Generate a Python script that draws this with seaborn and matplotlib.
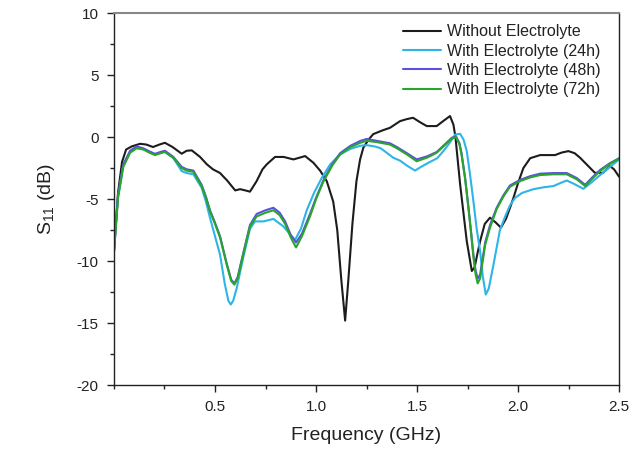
import numpy as np
import pandas as pd
import matplotlib
matplotlib.use("Agg")
import matplotlib.pyplot as plt
from matplotlib.ticker import MultipleLocator
import seaborn as sns

# ---------------- data ----------------
labels = ["Without Electrolyte", "With Electrolyte (24h)",
          "With Electrolyte (48h)", "With Electrolyte (72h)"]

x_none = [0.0, 0.02, 0.04, 0.06, 0.088, 0.129, 0.16, 0.193, 0.225, 0.252, 0.29, 0.335,
          0.36, 0.385, 0.426, 0.46, 0.49, 0.525, 0.56, 0.6, 0.624, 0.65, 0.673, 0.706,
          0.735, 0.756, 0.797, 0.84, 0.888, 0.946, 0.987, 1.02, 1.053, 1.085, 1.105,
          1.125, 1.144, 1.16, 1.18, 1.2, 1.218, 1.234, 1.26, 1.283, 1.33, 1.366, 1.416,
          1.449, 1.48, 1.515, 1.548, 1.597, 1.63, 1.663, 1.68, 1.69, 1.713, 1.746,
          1.771, 1.785, 1.80, 1.812, 1.835, 1.861, 1.89, 1.915, 1.94, 1.96, 1.977,
          2.0, 2.026, 2.06, 2.109, 2.183, 2.215, 2.249, 2.28, 2.307, 2.345, 2.38,
          2.42, 2.455, 2.475, 2.5]
y_none = [-9.2, -4.5, -2.0, -1.0, -0.75, -0.54, -0.6, -0.8, -0.6, -0.46, -0.8, -1.34,
          -1.1, -1.07, -1.6, -2.2, -2.6, -2.9, -3.5, -4.3, -4.2, -4.3, -4.4, -3.55,
          -2.6, -2.2, -1.6, -1.6, -1.8, -1.53, -2.07, -2.7, -3.55, -5.2, -7.5,
          -11.5, -14.8, -11.5, -7.0, -3.55, -1.8, -0.86, -0.2, 0.24, 0.55, 0.75, 1.29,
          1.45, 1.56, 1.2, 0.89, 0.89, 1.3, 1.7, 1.0, 0.0, -3.8, -8.4,
          -10.8, -10.5, -9.3, -8.4, -7.0, -6.5, -6.9, -7.3, -6.6, -5.7, -4.9,
          -3.7, -2.5, -1.7, -1.45, -1.45, -1.25, -1.13, -1.3, -1.67, -2.3, -2.88,
          -2.88, -2.34, -2.6, -3.2]

x_24 = [0.0, 0.02, 0.046, 0.08, 0.112, 0.145, 0.175, 0.203, 0.23, 0.252, 0.294, 0.335,
        0.36, 0.393, 0.434, 0.455, 0.475, 0.50, 0.525, 0.548, 0.566, 0.578, 0.59,
        0.607, 0.64, 0.673, 0.698, 0.74, 0.789, 0.838, 0.87, 0.896, 0.925, 0.954,
        0.99, 1.028, 1.07, 1.119, 1.17, 1.218, 1.25, 1.29, 1.32, 1.383, 1.416, 1.45,
        1.49, 1.52, 1.556, 1.60, 1.63, 1.66, 1.688, 1.713, 1.73, 1.746, 1.762, 1.779,
        1.795, 1.812, 1.825, 1.84, 1.855, 1.878, 1.91, 1.936, 1.96, 1.985, 2.02,
        2.076, 2.125, 2.175, 2.21, 2.241, 2.28, 2.323, 2.36, 2.39, 2.44, 2.5]
y_24 = [-8.9, -4.8, -2.3, -1.13, -0.85, -0.95, -1.2, -1.4, -1.25, -1.18, -1.7, -2.74,
        -2.9, -3.0, -4.1, -5.2, -6.5, -8.0, -9.5, -11.8, -13.2, -13.5, -13.2,
        -12.2, -9.7, -7.4, -6.8, -6.8, -6.6, -7.2, -7.8, -8.3, -7.4, -5.9,
        -4.5, -3.3, -2.2, -1.4, -0.95, -0.7, -0.65, -0.75, -0.9, -1.67, -1.9, -2.3,
        -2.7, -2.4, -2.07, -1.7, -1.13, -0.5, 0.2, 0.27, -0.2, -1.13, -3.0, -5.2,
        -7.4, -9.2, -11.2, -12.7, -12.2, -10.3, -7.5, -6.4, -5.5, -4.9, -4.5,
        -4.2, -4.05, -3.95, -3.7, -3.5, -3.8, -4.17, -3.7, -3.28, -2.6, -1.8]

x_48 = [0.0, 0.02, 0.046, 0.08, 0.112, 0.145, 0.175, 0.203, 0.23, 0.252, 0.294, 0.335,
        0.36, 0.393, 0.434, 0.455, 0.475, 0.50, 0.525, 0.558, 0.58, 0.596, 0.612,
        0.632, 0.673, 0.706, 0.75, 0.789, 0.82, 0.847, 0.875, 0.901, 0.93, 0.97,
        1.0, 1.036, 1.08, 1.119, 1.17, 1.22, 1.251, 1.30, 1.366, 1.40, 1.45, 1.498,
        1.55, 1.597, 1.64, 1.672, 1.693, 1.71, 1.72, 1.738, 1.754, 1.767, 1.779,
        1.79, 1.80, 1.812, 1.837, 1.861, 1.894, 1.927, 1.96, 2.01, 2.06, 2.109,
        2.175, 2.241, 2.29, 2.332, 2.37, 2.406, 2.45, 2.5]
y_48 = [-9.2, -4.7, -2.2, -1.1, -0.75, -0.9, -1.15, -1.35, -1.2, -1.1, -1.6, -2.4,
        -2.6, -2.7, -3.85, -4.8, -5.9, -6.9, -8.0, -10.2, -11.5, -11.8, -11.3,
        -9.9, -7.1, -6.2, -5.9, -5.7, -6.1, -6.8, -7.9, -8.5, -7.8, -6.2,
        -4.9, -3.5, -2.2, -1.3, -0.7, -0.3, -0.15, -0.3, -0.5, -0.8, -1.3, -1.8,
        -1.55, -1.2, -0.55, -0.05, 0.05, -0.5, -1.3, -3.3, -5.6, -7.6, -9.5,
        -10.8, -11.4, -11.1, -8.5, -7.1, -5.7, -4.7, -3.9, -3.45, -3.15, -2.95,
        -2.9, -2.9, -3.3, -3.85, -3.2, -2.65, -2.15, -1.7]

x_72 = list(x_48)
y_72 = [-9.3, -4.9, -2.4, -1.26, -0.9, -1.0, -1.25, -1.45, -1.3, -1.2, -1.67, -2.5,
        -2.7, -2.8, -3.95, -4.9, -6.0, -7.0, -8.1, -10.3, -11.6, -11.9, -11.4,
        -10.0, -7.2, -6.4, -6.1, -5.9, -6.3, -7.0, -8.1, -8.9, -8.0, -6.4,
        -5.0, -3.6, -2.3, -1.4, -0.8, -0.45, -0.3, -0.4, -0.6, -0.9, -1.4, -1.95,
        -1.65, -1.26, -0.6, -0.11, 0.0, -0.6, -1.4, -3.4, -5.7, -7.7, -9.7,
        -11.1, -11.8, -11.4, -8.7, -7.3, -5.8, -4.8, -4.0, -3.55, -3.25, -3.06,
        -3.0, -3.0, -3.4, -3.95, -3.3, -2.74, -2.2, -1.72]

x_ticks = [0.5, 1.0, 1.5, 2.0, 2.5]
y_ticks = [-20, -15, -10, -5, 0, 5, 10]

# ---------------- styling ----------------
sns.set_theme(style="ticks")
plt.rcParams["font.family"] = ["Liberation Sans", "DejaVu Sans"]
plt.rcParams["mathtext.default"] = "regular"
plt.rcParams["axes.unicode_minus"] = False
text_col = "#222222"

frames = []
for lab, xs, ys in [(labels[0], x_none, y_none), (labels[1], x_24, y_24),
                    (labels[2], x_48, y_48), (labels[3], x_72, y_72)]:
    frames.append(pd.DataFrame({"f": xs, "s11": ys, "series": lab}))
df = pd.concat(frames, ignore_index=True)

palette = {labels[0]: "#1c1c1c", labels[1]: "#2cb5e6",
           labels[2]: "#5b50e0", labels[3]: "#2aa52a"}

fig = plt.figure(figsize=(6.35, 4.53), dpi=100)
ax = fig.add_axes([0.1795, 0.150, 0.7955, 0.821])

sns.lineplot(data=df, x="f", y="s11", hue="series", hue_order=labels,
             palette=palette, estimator=None, sort=False, linewidth=1.5, ax=ax)

ax.set_xlim(0, 2.5)
ax.set_ylim(-20, 10)
ax.set_xticks(x_ticks)
ax.set_xticklabels([f"{v:.1f}" for v in x_ticks])
ax.set_yticks(y_ticks)
ax.xaxis.set_minor_locator(MultipleLocator(0.25))
ax.yaxis.set_minor_locator(MultipleLocator(2.5))
ax.tick_params(which="major", direction="out", length=5, width=1, colors="#222222",
               labelsize=11, labelcolor=text_col, pad=6)
ax.tick_params(which="minor", direction="out", length=3, width=1, colors="#222222")
ax.tick_params(top=False, right=False, which="both")

for side in ["left", "bottom", "right"]:
    ax.spines[side].set_color("#222222")
    ax.spines[side].set_linewidth(1.0)
ax.spines["top"].set_color("#888888")
ax.spines["top"].set_linewidth(1.5)
ax.spines["top"].set_visible(True)
ax.spines["right"].set_visible(True)

ax.set_xlabel("Frequency (GHz)", fontsize=14, color=text_col, labelpad=9)
ax.set_ylabel(r"S$_{11}$ (dB)", fontsize=14, color=text_col, labelpad=14)

leg = ax.legend(loc="upper right", bbox_to_anchor=(0.963, 0.97), frameon=False,
                fontsize=11.5, handlelength=2.4, handletextpad=0.35,
                labelspacing=0.27, borderpad=0, borderaxespad=0)
for t in leg.get_texts():
    t.set_color(text_col)
for h in leg.get_lines():
    h.set_linewidth(1.5)

fig.savefig("out.png", dpi=100)
